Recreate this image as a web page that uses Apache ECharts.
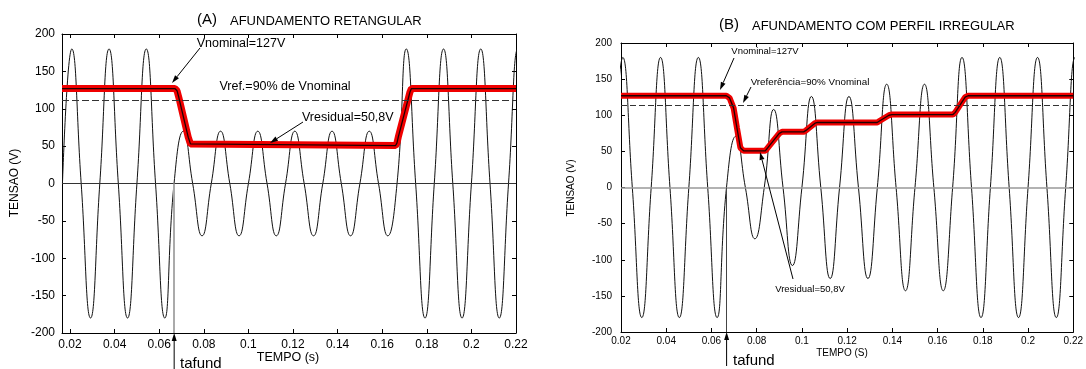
<!DOCTYPE html>
<html>
<head>
<meta charset="utf-8">
<script src="https://cdn.jsdelivr.net/npm/echarts@6/dist/echarts.min.js"></script>
<style>
html,body{margin:0;padding:0;background:#fff;}
#main{width:1086px;height:369px;}
</style>
</head>
<body>
<div id="main"></div>
<script>
// instants of the half-cycle peaks of the 60 Hz voltage (s)
var peakTimes = [0.0208,0.0292,0.0375,0.0458,0.0542,0.0625,0.0708,0.0792,0.0875,0.0958,0.1042,0.1125,0.1208,
                 0.1292,0.1375,0.1458,0.1542,0.1625,0.1708,0.1792,0.1875,0.1958,0.2042,0.2125,0.2208];
// peak value of each half cycle (V)
var peaksA = [180,-180,180,-180,180,-180, 70,-70,70,-70,70,-70,70,-70,70,-70,70,-70, 180,-180,180,-180,180,-180,180];
var peaksB = [180,-180,180,-180,180,-180, 71,-71,108,-108,126,-126,126,-126,143,-143,143,-143, 180,-180,180,-180,180,-180,180];

// rms (red) curves
var rmsTimeA = [0.0164,0.0670,0.0680,0.0688,0.0730,0.0740,0.0748,0.1660,0.1666,0.1672,0.1724,0.1731,0.22];
var rmsA     = [127,   127,   124,   115,   62,    53,    50.8,  50.8,  54,    62,    122,   127,   127];
var rmsTimeB = [0.02,0.0666,0.0680,0.0698,0.0713,0.0728,0.0742,0.0838,0.0846,0.0900,0.0912,0.1008,0.1018,0.1058,0.1070,
                0.1333,0.1343,0.1385,0.1398,0.1668,0.1678,0.1722,0.1735,0.22];
var rmsB     = [127, 127,   124,   110,   82,    55,    50.8,  50.8,  53,    75,    77,    77,    79,    89,    90,
                90,    92,    100,   101,   101,   104,   125,   127,   127];

var vrefA = 112, vrefB = 114.3;
var tafund = 0.0667;
var xMinA = 0.0164, xMinB = 0.02, xMax = 0.22;
var yTicks = {min:-200, max:200, interval:50};

function wave(peaks){
  var d = [], half = peakTimes[1]-peakTimes[0];
  d.push([peakTimes[0]-half/2, 0]);
  for (var i=0;i<peaks.length;i++){
    d.push([peakTimes[i], peaks[i]]);
    var z = i+1<peakTimes.length ? (peakTimes[i]+peakTimes[i+1])/2 : peakTimes[i]+half/2;
    d.push([z, 0]);
  }
  return d;
}
function pairs(t, v){ return t.map(function(x,i){ return [x, v[i]]; }); }

var FONT = '"Liberation Sans", Arial, sans-serif';

function xAx(grid, min, pos, fs, margin){
  return {type:'value', gridIndex:grid, min:min, max:xMax, splitNumber:10, position:pos,
    axisLine:{show:true, onZero:false, lineStyle:{color:'#000', width:1}},
    axisTick:{show:true, inside:true, length:4, lineStyle:{color:'#000'}},
    splitLine:{show:false},
    axisLabel:{show:pos=='bottom', showMinLabel:min==0.02, fontSize:fs, margin:margin, color:'#000', fontFamily:FONT}};
}
function yAx(grid, pos, fs, margin){
  return {type:'value', gridIndex:grid, min:yTicks.min, max:yTicks.max, interval:yTicks.interval, position:pos,
    axisLine:{show:true, onZero:false, lineStyle:{color:'#000', width:1}},
    axisTick:{show:true, inside:true, length:4, lineStyle:{color:'#000'}},
    splitLine:{show:false},
    axisLabel:{show:pos=='left', fontSize:fs, margin:margin, color:'#000', fontFamily:FONT}};
}

function panel(xi, yi, peaks, rms, vref, zeroColor, zeroW, tColor, tW, redW, dash){
  return [
    {type:'line', xAxisIndex:xi, yAxisIndex:yi, data:wave(peaks), smooth:true, showSymbol:false, z:2,
     lineStyle:{color:'#111', width:1},
     markLine:{silent:true, symbol:'none', label:{show:false}, animation:false,
       data:[
         {yAxis:0, lineStyle:{color:zeroColor, width:zeroW, type:'solid'}},
         {yAxis:vref, lineStyle:{color:'#333', width:1.2, type:dash}},
         [{coord:[tafund,0], lineStyle:{color:tColor, width:tW, type:'solid'}},{coord:[tafund,-200]}]
       ]}},
    {type:'line', xAxisIndex:xi, yAxisIndex:yi, data:rms, showSymbol:false, z:3,
     lineStyle:{color:'#f00000', width:redW}},
    {type:'line', xAxisIndex:xi, yAxisIndex:yi, data:rms, showSymbol:false, z:4,
     lineStyle:{color:'#200000', width:1.3}}
  ];
}

var chart = echarts.init(document.getElementById('main'));
chart.setOption({
  animation:false,
  backgroundColor:'#fff',
  grid:[{left:62, top:34, width:454, height:299},
        {left:621, top:43, width:458, height:289}],
  xAxis:[xAx(0,xMinA,'bottom',12,6), xAx(0,xMinA,'top',12,6), xAx(1,xMinB,'bottom',10,4), xAx(1,xMinB,'top',10,4)],
  yAxis:[yAx(0,'left',12,7), yAx(0,'right',12,7), yAx(1,'left',10,9), yAx(1,'right',10,9)],
  series: panel(0,0,peaksA,pairs(rmsTimeA,rmsA),vrefA,'#333',1,'#aaa',2,7,[7,3])
    .concat(panel(2,2,peaksB,pairs(rmsTimeB,rmsB),vrefB,'#999',1.5,'#444',1,6,[6,3]))
});

function txt(t,x,y,size,align,rot){
  return {type:'text', x:x, y:y, rotation:rot||0, z:10,
    style:{text:t, font:size+'px '+FONT, fill:'#000', align:align||'center', verticalAlign:'middle'}};
}
function arrow(x1,y1,x2,y2){
  var a = Math.atan2(y2-y1,x2-x1), len = 8, w = 5;
  var bx = x2-len*Math.cos(a), by = y2-len*Math.sin(a);
  var nx = -Math.sin(a)*w/2, ny = Math.cos(a)*w/2;
  return [
    {type:'line', z:10, shape:{x1:x1,y1:y1,x2:bx,y2:by}, style:{stroke:'#000', lineWidth:1}},
    {type:'polygon', z:10, shape:{points:[[x2,y2],[bx+nx,by+ny],[bx-nx,by-ny]]}, style:{fill:'#000'}}
  ];
}

var pA = chart.convertToPixel({xAxisIndex:0, yAxisIndex:0}, [tafund,-200]);
var pB = chart.convertToPixel({xAxisIndex:2, yAxisIndex:2}, [tafund,-200]);

var g = [
  txt('(A)',197,20,15,'left'), txt('AFUNDAMENTO RETANGULAR',230,21,13,'left'),
  txt('Vnominal=127V',241,44,12.5), txt('Vref.=90% de Vnominal',285,87,12.5),
  txt('Vresidual=50,8V',302,118,12.5,'left'),
  txt('TENSAO (V)',15,183,12,'center',Math.PI/2), txt('TEMPO (s)',288,358,12.5),
  txt('tafund',180,364,15,'left'),
  txt('(B)',719,25,15,'left'), txt('AFUNDAMENTO COM PERFIL IRREGULAR',752,26,13,'left'),
  txt('Vnominal=127V',765,51,9.5), txt('Vreferência=90% Vnominal',810,82,9.8),
  txt('Vresidual=50,8V',810,289,9.5),
  txt('TENSAO (V)',571,188,10,'center',Math.PI/2), txt('TEMPO (S)',842,353,10),
  txt('tafund',733,361,15,'left')
].concat(arrow(200,48,172,83), arrow(303,122,270,143),
         arrow(734,58,720,90), arrow(751,87,743,103), arrow(793,279,760,152),
         arrow(pA[0],372,pA[0],pA[1]), arrow(pB[0],366,pB[0],pB[1]));

chart.setOption({graphic:g});
</script>
</body>
</html>
